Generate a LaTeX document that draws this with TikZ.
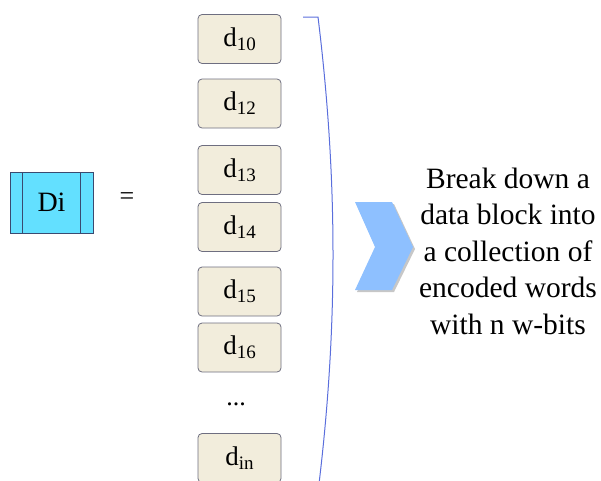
\documentclass[tikz,border=0pt]{standalone}
\usepackage{fontspec}
\setmainfont{Liberation Serif}
\newcommand{\dsub}[1]{d\raisebox{-4pt}{\fontsize{19}{20}\selectfont #1}}
\begin{document}
\begin{tikzpicture}[x=1pt,y=-1pt,
  dbox/.style={draw=dborder, fill=beigefill, rounded corners=4pt, line width=0.8pt,
    minimum width=83pt, minimum height=49pt, inner sep=0pt, font=\fontsize{27}{30}\selectfont},
  dibox/.style={draw=diborder, fill=difill, line width=0.8pt, minimum width=83pt, minimum height=61pt,
    inner sep=0pt, font=\fontsize{28}{30}\selectfont}]
\definecolor{beigefill}{HTML}{F2EDDC}
\definecolor{dborder}{HTML}{6E6E80}
\definecolor{difill}{HTML}{63E0FF}
\definecolor{diborder}{HTML}{3A4A70}
\definecolor{chev}{HTML}{8EC0FF}
\definecolor{brk}{HTML}{5A6EDC}
\useasboundingbox (0,0) rectangle (601,480);
\begin{scope}
\clip (0,0) rectangle (601,480);
% Di box
\node[dibox] (di) at (51.5,202.5) {Di};
\draw[diborder, line width=0.8pt] (22.7,172) -- (22.7,233) (80.7,172) -- (80.7,233);
\node[font=\fontsize{26}{28}\selectfont] (eq) at (127,199) {=};
% d boxes
\node[dbox] (d10) at (239.5,39) {\dsub{10}};
\node[dbox] (d12) at (239.5,103.5) {\dsub{12}};
\node[dbox] (d13) at (239.5,170) {\dsub{13}};
\node[dbox] (d14) at (239.5,227) {\dsub{14}};
\node[dbox] (d15) at (239.5,291.5) {\dsub{15}};
\node[dbox] (d16) at (239.5,347.5) {\dsub{16}};
\node[font=\fontsize{26}{28}\selectfont] (dots) at (236,404) {...};
\node[dbox] (din) at (239.5,458) {\dsub{in}};
% bracket
\draw[brk, line width=1pt] (303,17) -- (318,17) .. controls (338,180) and (338,330) .. (318,492);
% chevron with shadow
\fill[black!22] (357,204) -- (394,204) -- (415,249) -- (394,292) -- (357,292) -- (377,249) -- cycle;
\fill[chev] (355,202) -- (392,202) -- (413,247) -- (392,290) -- (355,290) -- (375,247) -- cycle;
\end{scope}
\node[align=center, font=\fontsize{29.5}{36.5}\selectfont, inner sep=0pt] (txt) at (508,251)
  {Break down a\\data block into\\a collection of\\encoded words\\with n w-bits};
\end{tikzpicture}
\end{document}
